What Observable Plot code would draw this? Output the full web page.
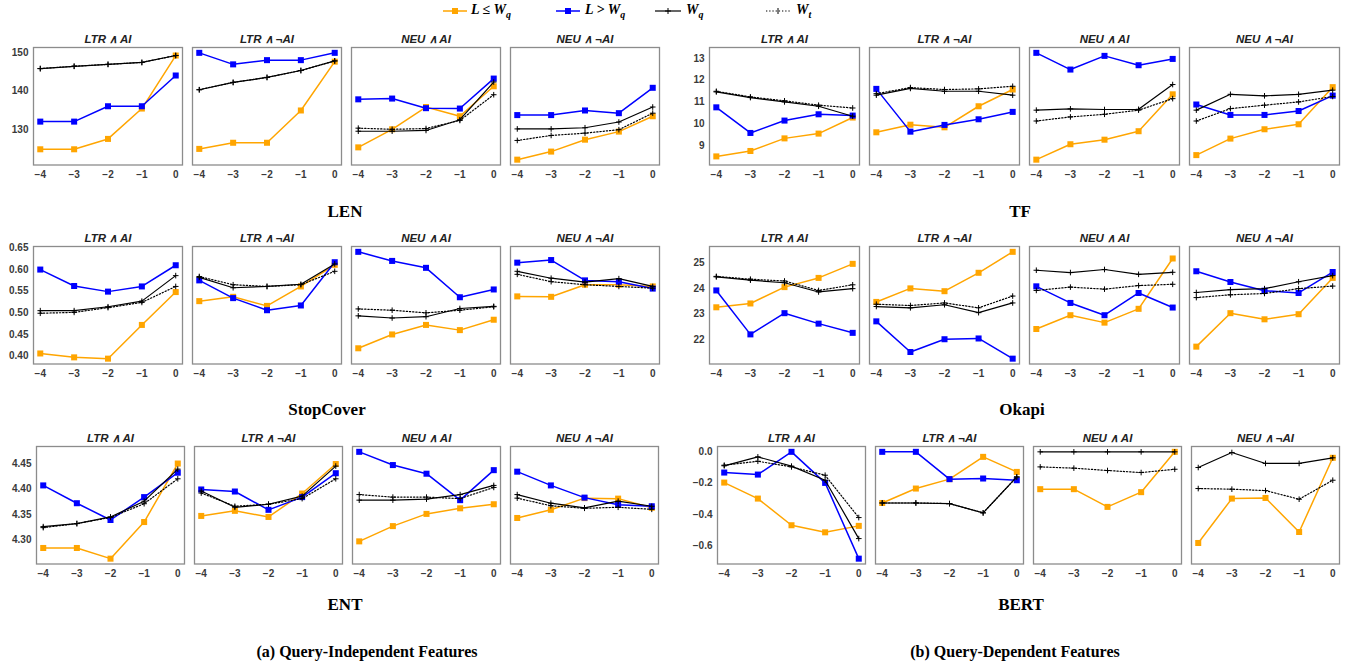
<!DOCTYPE html>
<html><head><meta charset="utf-8">
<script src="https://cdn.jsdelivr.net/npm/d3@7"></script>
<script src="https://cdn.jsdelivr.net/npm/@observablehq/plot@0.6"></script>
<style>
body{margin:0;background:#fff;}
#root{position:relative;width:1347px;height:667px;overflow:hidden;background:#fff;}
.grp{position:absolute;}
.lbl{position:absolute;font-family:"Liberation Serif","DejaVu Serif",serif;font-weight:bold;font-size:17px;color:#000;transform:translate(-50%,-50%);white-space:nowrap;}
.cap{font-size:16px;}
.leg{position:absolute;font-family:"Liberation Serif","DejaVu Serif",serif;font-style:italic;font-weight:bold;font-size:14px;color:#000;white-space:nowrap;top:2px;}
.leg sub{font-size:10px;}
</style>
</head><body>
<div id="root"></div>
<script>
const xs = [-4, -3, -2, -1, 0];
const conds = ["LTR ∧ AI", "LTR ∧ ¬AI", "NEU ∧ AI", "NEU ∧ ¬AI"];

// LEN
const LEN_le = [[124.9,124.9,127.6,135.5,149.3],[125.0,126.6,126.6,135.0,147.7],[125.4,130.1,135.9,133.5,141.3],[122.2,124.3,127.4,129.5,133.5]];
const LEN_gt = [[132.1,132.1,136.1,136.1,144.1],[150.0,147.0,148.1,148.1,150.0],[137.9,138.1,135.6,135.5,143.3],[133.8,133.8,135.0,134.3,140.9]];
const LEN_wq = [[145.9,146.5,147.0,147.5,149.3],[140.4,142.3,143.6,145.4,147.9],[129.6,129.6,129.8,132.6,142.4],[130.2,130.2,130.5,132.0,135.9]];
const LEN_wt = [[145.9,146.5,147.0,147.5,149.3],[140.4,142.3,143.6,145.4,147.9],[130.4,130.1,130.3,132.4,139.1],[127.2,128.5,129.1,130.0,134.3]];
const LEN_ticks = [130, 140, 150];

// TF
const TF_le = [[8.49,8.74,9.32,9.54,10.28],[9.6,9.95,9.83,10.8,11.57],[8.34,9.05,9.26,9.65,11.35],[8.55,9.31,9.74,9.97,11.68]];
const TF_gt = [[10.75,9.57,10.14,10.43,10.37],[11.6,9.63,9.94,10.2,10.54],[13.26,12.49,13.12,12.69,12.98],[10.88,10.4,10.4,10.58,11.29]];
const TF_wq = [[11.46,11.2,11.0,10.8,10.34],[11.31,11.62,11.49,11.49,11.31],[10.62,10.68,10.65,10.66,11.8],[10.62,11.35,11.28,11.35,11.54]];
const TF_wt = [[11.49,11.23,11.05,10.85,10.72],[11.38,11.66,11.57,11.6,11.72],[10.12,10.31,10.43,10.62,11.15],[10.12,10.69,10.85,11.0,11.25]];
const TF_ticks = [9, 10, 11, 12, 13];

// StopCover
const SC_le = [[0.406,0.397,0.394,0.472,0.548],[0.527,0.537,0.516,0.561,0.611],[0.418,0.450,0.472,0.460,0.484],[0.538,0.537,0.565,0.565,0.561]];
const SC_gt = [[0.600,0.562,0.549,0.561,0.610],[0.575,0.534,0.506,0.517,0.617],[0.641,0.620,0.604,0.536,0.554],[0.616,0.622,0.575,0.572,0.556]];
const SC_wq = [[0.505,0.505,0.514,0.527,0.586],[0.582,0.558,0.561,0.566,0.613],[0.493,0.488,0.491,0.510,0.515],[0.596,0.580,0.571,0.579,0.561]];
const SC_wt = [[0.499,0.501,0.512,0.524,0.561],[0.584,0.565,0.561,0.565,0.596],[0.509,0.506,0.500,0.506,0.514],[0.589,0.572,0.565,0.561,0.557]];
const SC_ticks = [0.40, 0.45, 0.50, 0.55, 0.60, 0.65];

// Okapi
const OK_le = [[23.26,23.41,24.05,24.41,24.96],[23.47,24.0,23.89,24.61,25.43],[22.41,22.95,22.66,23.2,25.17],[21.72,23.03,22.79,22.99,24.41]];
const OK_gt = [[23.92,22.2,23.03,22.62,22.26],[22.71,21.51,22.01,22.04,21.25],[24.08,23.43,22.95,23.82,23.25],[24.67,24.25,23.91,23.82,24.64]];
const OK_wq = [[24.45,24.32,24.22,23.86,23.99],[23.29,23.24,23.36,23.05,23.43],[24.71,24.62,24.74,24.55,24.63],[23.84,23.95,23.99,24.26,24.5]];
const OK_wt = [[24.47,24.36,24.29,23.92,24.14],[23.38,23.33,23.43,23.24,23.7],[23.92,24.05,23.97,24.11,24.16],[23.64,23.75,23.8,23.99,24.09]];
const OK_ticks = [22, 23, 24, 25];

// ENT
const ENT_le = [[4.284,4.284,4.263,4.335,4.450],[4.347,4.357,4.345,4.391,4.449],[4.297,4.327,4.351,4.362,4.370],[4.343,4.359,4.382,4.381,4.363]];
const ENT_gt = [[4.407,4.372,4.339,4.384,4.432],[4.399,4.395,4.359,4.384,4.431],[4.473,4.447,4.430,4.378,4.437],[4.434,4.407,4.383,4.369,4.366]];
const ENT_wq = [[4.326,4.332,4.345,4.376,4.439],[4.396,4.364,4.370,4.386,4.445],[4.378,4.378,4.380,4.389,4.407],[4.389,4.372,4.363,4.376,4.366]];
const ENT_wt = [[4.324,4.332,4.344,4.371,4.420],[4.392,4.366,4.370,4.381,4.420],[4.389,4.384,4.384,4.381,4.403],[4.382,4.367,4.362,4.364,4.360]];
const ENT_ticks = [4.30, 4.35, 4.40, 4.45];

// BERT
const BERT_le = [[-0.196,-0.298,-0.468,-0.513,-0.472],[-0.326,-0.234,-0.174,-0.032,-0.128],[-0.238,-0.238,-0.351,-0.257,0.0],[-0.581,-0.298,-0.294,-0.511,-0.038]];
const BERT_gt = [[-0.132,-0.145,0.0,-0.198,-0.681],[0.0,0.0,-0.174,-0.170,-0.181],null,null];
const BERT_wq = [[-0.089,-0.032,-0.091,-0.181,-0.553],[-0.326,-0.326,-0.330,-0.389,-0.16],[0,0,0,0,0],[-0.1,-0.004,-0.074,-0.074,-0.038]];
const BERT_wt = [[-0.085,-0.06,-0.096,-0.149,-0.419],[-0.326,-0.326,-0.330,-0.389,-0.16],[-0.096,-0.104,-0.119,-0.132,-0.111],[-0.234,-0.238,-0.247,-0.302,-0.181]];
const BERT_ticks = [-0.6, -0.4, -0.2, 0.0];

const groupNames = ["LEN", "TF", "StopCover", "Okapi", "ENT", "BERT"];
const captions = ["(a) Query-Independent Features", "(b) Query-Dependent Features"];

const groups = [
  {name:"LEN", le:LEN_le, gt:LEN_gt, wq:LEN_wq, wt:LEN_wt, ticks:LEN_ticks, fmt:d3.format("d"), left:0, frameTop:47.3, frameLeft:31.7, frameRight:659.5, gap:10, lx:345, ly:212},
  {name:"TF", le:TF_le, gt:TF_gt, wq:TF_wq, wt:TF_wt, ticks:TF_ticks, fmt:d3.format("d"), left:670, frameTop:47.3, frameLeft:706.7, frameRight:1340, gap:10.5, lx:1020, ly:212},
  {name:"StopCover", le:SC_le, gt:SC_gt, wq:SC_wq, wt:SC_wt, ticks:SC_ticks, fmt:d3.format(".2f"), left:0, frameTop:246.3, frameLeft:33.3, frameRight:659.5, gap:10, lx:327, ly:410},
  {name:"Okapi", le:OK_le, gt:OK_gt, wq:OK_wq, wt:OK_wt, ticks:OK_ticks, fmt:d3.format("d"), left:670, frameTop:246.3, frameLeft:706.7, frameRight:1340, gap:10.5, lx:1022, ly:410},
  {name:"ENT", le:ENT_le, gt:ENT_gt, wq:ENT_wq, wt:ENT_wt, ticks:ENT_ticks, fmt:d3.format(".2f"), left:0, frameTop:445.5, frameLeft:34.3, frameRight:659.5, gap:10, lx:345, ly:605},
  {name:"BERT", le:BERT_le, gt:BERT_gt, wq:BERT_wq, wt:BERT_wt, ticks:BERT_ticks, fmt:d3.format(".1f"), left:670, frameTop:445.5, frameLeft:715, frameRight:1340, gap:10.5, lx:1021, ly:605}
];

const plusSym = {draw(ctx, size){ const r = Math.sqrt(size/Math.PI); ctx.moveTo(0,-r); ctx.lineTo(0,r); ctx.moveTo(-r,0); ctx.lineTo(r,0); }};

function rows(g){
  const out = [];
  for (const s of ["le","gt","wq","wt"]) {
    g[s].forEach((vals,i) => { if (!vals) return; vals.forEach((v,j) => out.push({cond:conds[i], series:s, x:xs[j], y:v})); });
  }
  return out;
}

// domains with 5% margins like matplotlib autoscale
function yDomain(g){
  const all = rows(g).map(d=>d.y);
  const lo = d3.min(all), hi = d3.max(all), m = (hi-lo)*0.05;
  return [lo-m, hi+m];
}

const root = document.getElementById("root");
const MT = 22, MB = 22, FH = 117.5;

for (const g of groups) {
  const data = rows(g);
  const f = s => data.filter(d => d.series === s);
  const W = g.left === 0 ? 663 : 1345 - g.left;
  const mL = g.frameLeft - g.left;
  const mR = W - (g.frameRight - g.left);
  const range = W - mL - mR;
  const step = (range + g.gap) / 4;
  const p = g.gap / step;
  const common = {x:"x", y:"y", fx:"cond"};
  const chart = Plot.plot({
    width: W, height: MT + FH + MB,
    marginLeft: mL, marginRight: mR, marginTop: MT, marginBottom: MB,
    style: {fontFamily: "'Liberation Sans', Arial, sans-serif", fontSize: "10px", fontWeight: "bold", color: "#3a3a3a", background: "transparent", overflow: "visible"},
    fx: {domain: conds, paddingInner: p, paddingOuter: 0, label: null},
    x: {domain: [-4.2, 0.2], label: null},
    y: {domain: yDomain(g), label: null},
    marks: [
      Plot.frame({stroke: "#8c8c8c", strokeWidth: 1.3}),
      Plot.axisFx({anchor: "top", tickSize: 0, tickPadding: 5, label: null, fontSize: 11.5, fontStyle: "italic", fontWeight: "bold", fill: "#222"}),
      Plot.axisX({ticks: xs, tickSize: 0, tickPadding: 6, label: null, tickFormat: d3.format("d")}),
      Plot.axisY({ticks: g.ticks, tickSize: 0, tickPadding: 5, label: null, tickFormat: g.fmt}),
      Plot.line(f("le"), {...common, stroke: "#FFA500", strokeWidth: 1.5}),
      Plot.dot(f("le"), {...common, symbol: "square", r: 3.4, fill: "#FFA500"}),
      Plot.line(f("gt"), {...common, stroke: "#0000FF", strokeWidth: 1.5}),
      Plot.dot(f("gt"), {...common, symbol: "square", r: 3.4, fill: "#0000FF"}),
      Plot.line(f("wq"), {...common, stroke: "#000", strokeWidth: 1.2}),
      Plot.dot(f("wq"), {...common, symbol: plusSym, r: 2.8, stroke: "#000", strokeWidth: 1}),
      Plot.line(f("wt"), {...common, stroke: "#000", strokeWidth: 1.2, strokeDasharray: "1.3,1.9"}),
      Plot.dot(f("wt"), {...common, symbol: plusSym, r: 2.8, stroke: "#000", strokeWidth: 1})
    ]
  });
  const div = document.createElement("div");
  div.className = "grp";
  div.style.left = g.left + "px";
  div.style.top = (g.frameTop - MT) + "px";
  div.appendChild(chart);
  root.appendChild(div);

  const lab = document.createElement("div");
  lab.className = "lbl";
  lab.style.left = g.lx + "px";
  lab.style.top = g.ly + "px";
  lab.textContent = g.name;
  root.appendChild(lab);
}

[[367, 652], [1015, 652]].forEach(([x, y], i) => {
  const c = document.createElement("div");
  c.className = "lbl cap";
  c.style.left = x + "px"; c.style.top = y + "px";
  c.textContent = captions[i];
  root.appendChild(c);
});

// legend
const legSvg = d3.create("svg").attr("width", 1347).attr("height", 24).style("position", "absolute").style("left", "0px").style("top", "0px");
const ly = 11;
legSvg.append("line").attr("x1", 443).attr("x2", 467).attr("y1", ly).attr("y2", ly).attr("stroke", "#FFA500").attr("stroke-width", 1.5);
legSvg.append("rect").attr("x", 452).attr("y", ly-3).attr("width", 6).attr("height", 6).attr("fill", "#FFA500");
legSvg.append("line").attr("x1", 556).attr("x2", 580).attr("y1", ly).attr("y2", ly).attr("stroke", "#0000FF").attr("stroke-width", 1.5);
legSvg.append("rect").attr("x", 565).attr("y", ly-3).attr("width", 6).attr("height", 6).attr("fill", "#0000FF");
legSvg.append("line").attr("x1", 655).attr("x2", 681).attr("y1", ly).attr("y2", ly).attr("stroke", "#000").attr("stroke-width", 1.2);
legSvg.append("path").attr("d", `M668,${ly-3}V${ly+3}M665,${ly}H671`).attr("stroke", "#000");
legSvg.append("line").attr("x1", 766).attr("x2", 790).attr("y1", ly).attr("y2", ly).attr("stroke", "#000").attr("stroke-width", 1.2).attr("stroke-dasharray", "1.3,1.9");
legSvg.append("path").attr("d", `M778,${ly-3}V${ly+3}`).attr("stroke", "#000");
root.appendChild(legSvg.node());

const legTexts = [[471, "L ≤ W", "q"], [585, "L &gt; W", "q"], [686, "W", "q"], [796, "W", "t"]];
for (const [x, t, s] of legTexts) {
  const d = document.createElement("div");
  d.className = "leg";
  d.style.left = x + "px";
  d.innerHTML = t + "<sub>" + s + "</sub>";
  root.appendChild(d);
}
</script>
</body></html>
